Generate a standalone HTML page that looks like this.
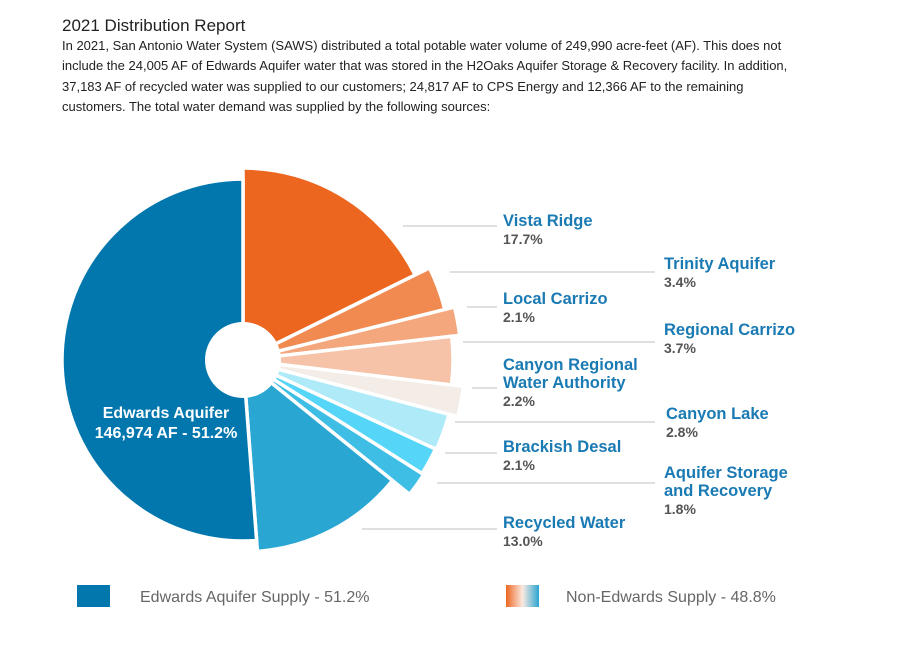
<!DOCTYPE html>
<html><head><meta charset="utf-8"><style>
body{margin:0;background:#fff;width:900px;height:671px;overflow:hidden;font-family:"Liberation Sans",sans-serif;}
h1{position:absolute;left:62px;top:16px;margin:0;font-size:17px;font-weight:normal;color:#222;}
p{position:absolute;left:62px;top:36px;width:735px;margin:0;font-size:13px;line-height:20.3px;color:#222;}
svg{position:absolute;left:0;top:0;}
.lab{font-weight:bold;font-size:16.5px;fill:#1a7ab3;}
.pct{font-weight:bold;font-size:14px;fill:#555;}
.leg{font-size:16px;fill:#666;}
</style></head><body>
<h1>2021 Distribution Report</h1>
<p>In 2021, San Antonio Water System (SAWS) distributed a total potable water volume of 249,990 acre-feet (AF). This does not include the 24,005 AF of Edwards Aquifer water that was stored in the H2Oaks Aquifer Storage &amp; Recovery facility. In addition, 37,183 AF of recycled water was supplied to our customers; 24,817 AF to CPS Energy and 12,366 AF to the remaining customers. The total water demand was supplied by the following sources:</p>
<svg id="chart" width="900" height="671">
<defs><linearGradient id="ng" x1="0" x2="1"><stop offset="0" stop-color="#ec6620"/><stop offset="0.5" stop-color="#fbe9e0"/><stop offset="1" stop-color="#2aa6d3"/></linearGradient></defs>
<g id="slices"></g>
<circle cx="243" cy="360" r="38" fill="#fff"/>
<text x="166" y="418" text-anchor="middle" font-weight="bold" font-size="16" fill="#fff">Edwards Aquifer</text>
<text x="166" y="438" text-anchor="middle" font-weight="bold" font-size="16" fill="#fff">146,974 AF - 51.2%</text>
<g id="labels"></g>
<rect x="77" y="585" width="33" height="22" fill="#0277ae"/>
<text x="140" y="602" class="leg">Edwards Aquifer Supply - 51.2%</text>
<rect x="506" y="585" width="33" height="22" fill="url(#ng)"/>
<text x="566" y="602" class="leg">Non-Edwards Supply - 48.8%</text>
</svg>
<script>
const categories=["Vista Ridge","Trinity Aquifer","Local Carrizo","Regional Carrizo","Canyon Regional Water Authority","Canyon Lake","Brackish Desal","Aquifer Storage and Recovery","Recycled Water","Edwards Aquifer"];
const values=[17.7,3.4,2.1,3.7,2.2,2.8,2.1,1.8,13.0,51.2];
const pctLabels=["17.7%","3.4%","2.1%","3.7%","2.2%","2.8%","2.1%","1.8%","13.0%",""];
const colors=["#ec6620","#f08a50","#f4a67c","#f6c3a8","#f3ece7","#aeeaf8","#55d5f7","#3ebde5","#2aa6d3","#0277ae"];
const radii=[192,208,218,210,222,213,212,214,192,181];
const cx=243,cy=360,ns="http://www.w3.org/2000/svg";
const total=values.reduce((a,b)=>a+b,0);
const g=document.getElementById('slices');
let a=-90;
values.forEach((v,i)=>{
  const sweep=v/total*360,a0=a*Math.PI/180,a1=(a+sweep)*Math.PI/180,r=radii[i];
  const large=sweep>180?1:0;
  const d=`M${cx},${cy}L${cx+r*Math.cos(a0)},${cy+r*Math.sin(a0)}A${r},${r} 0 ${large} 1 ${cx+r*Math.cos(a1)},${cy+r*Math.sin(a1)}Z`;
  const p=document.createElementNS(ns,'path');
  p.setAttribute('d',d);p.setAttribute('fill',colors[i]);p.setAttribute('stroke','#fff');p.setAttribute('stroke-width','3.5');p.setAttribute('stroke-linejoin','round');
  
  
  g.appendChild(p);
  a+=sweep;
});
const lg=document.getElementById('labels');
const lines=[[403,226,497],[450,272,655],[467,307,497],[463,342,655],[472,388,497],[455,422,655],[445,453,497],[437,483,655],[362,529,497]];
const lbl=[[503,226,["Vista Ridge"]],[664,269,["Trinity Aquifer"]],[503,304,["Local Carrizo"]],[664,335,["Regional Carrizo"]],[503,370,["Canyon Regional","Water Authority"]],[666,419,["Canyon Lake"]],[503,452,["Brackish Desal"]],[664,478,["Aquifer Storage","and Recovery"]],[503,528,["Recycled Water"]]];
lines.forEach((l,i)=>{
  const ln=document.createElementNS(ns,'line');
  ln.setAttribute('x1',l[0]);ln.setAttribute('x2',l[2]);ln.setAttribute('y1',l[1]);ln.setAttribute('y2',l[1]);
  ln.setAttribute('stroke','#ccc');ln.setAttribute('stroke-width','1.3');
  
  
  lg.appendChild(ln);
  const [x,y,names]=lbl[i];
  names.forEach((n,k)=>{
    const t=document.createElementNS(ns,'text');
    t.setAttribute('x',x);t.setAttribute('y',y+k*18);t.setAttribute('class','lab');t.textContent=n;
    
    
    lg.appendChild(t);
  });
  const t=document.createElementNS(ns,'text');
  t.setAttribute('x',x);t.setAttribute('y',y+names.length*18);t.setAttribute('class','pct');t.textContent=pctLabels[i];
  
  
  lg.appendChild(t);
});
</script>
</body></html>
